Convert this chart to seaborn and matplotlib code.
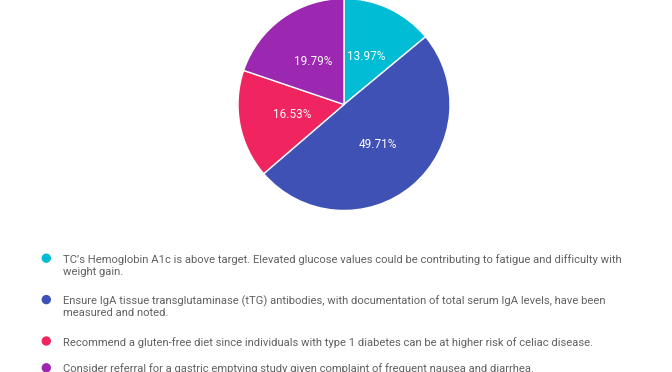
import matplotlib
matplotlib.use("Agg")
import matplotlib.pyplot as plt
from matplotlib.patches import Ellipse
import seaborn as sns

sns.set_theme(style="white")
plt.rcParams['font.family'] = ['Roboto', 'DejaVu Sans']

labels = [
    "TC\u2019s Hemoglobin A1c is above target. Elevated glucose values could be contributing to fatigue and difficulty with\nweight gain.",
    "Ensure IgA tissue transglutaminase (tTG) antibodies, with documentation of total serum IgA levels, have been\nmeasured and noted.",
    "Recommend a gluten-free diet since individuals with type 1 diabetes can be at higher risk of celiac disease.",
    "Consider referral for a gastric emptying study given complaint of frequent nausea and diarrhea.",
]
values = [13.97, 49.71, 16.53, 19.79]
colors = ["#00BCD4", "#3F51B5", "#F0245F", "#9C27B0"]

W, H = 672, 372
fig = plt.figure(figsize=(W / 100, H / 100), dpi=100)

cx, cy, r = 344, 104.5, 106
ax = fig.add_axes([(cx - r) / W, (H - cy - r) / H, 2 * r / W, 2 * r / H])
wedges, texts, autotexts = ax.pie(
    values, colors=colors, startangle=90, counterclock=False,
    autopct=lambda p: f"{p:.2f}%", pctdistance=0.5,
    wedgeprops=dict(edgecolor="white", linewidth=1),
    textprops=dict(color="white", fontsize=8.5),
)
ax.set_xlim(-1, 1)
ax.set_ylim(-1, 1)
ax.set_aspect("equal")
ax.axis("off")

# legend (manual layout, one entry per slice)
y = 258.6
marker_x, text_x = 46.3, 63
line_pitch, base_pitch = 12.6, 26.8
d = 9.4
for lab, col in zip(labels, colors):
    circ = Ellipse((marker_x / W, 1 - (y - 0.4) / H), d / W, d / H,
                   transform=fig.transFigure, facecolor=col, edgecolor="none")
    fig.patches.append(circ)
    lines = lab.split("\n")
    for i, ln in enumerate(lines):
        fig.text(text_x / W, 1 - (y + 0.8 + i * line_pitch) / H, ln, fontsize=8.1,
                 color="#616161", ha="left", va="center")
    y += base_pitch + (line_pitch + 2) * (len(lines) - 1)

fig.savefig("out.png", dpi=100)
